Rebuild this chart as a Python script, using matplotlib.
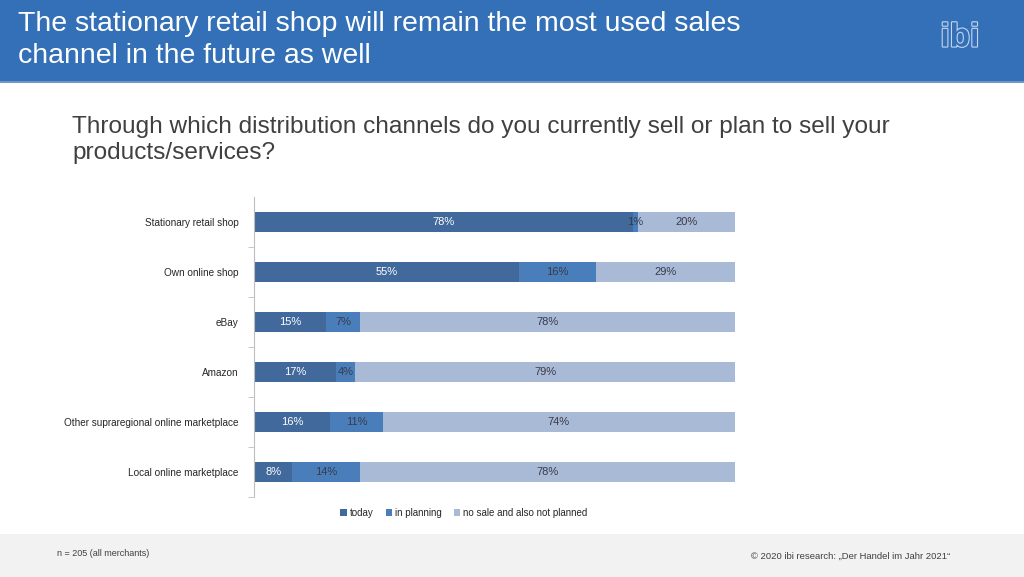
import numpy as np
import matplotlib
matplotlib.use('Agg')
import matplotlib.pyplot as plt
from matplotlib.patches import Rectangle
import matplotlib.patheffects as pe

plt.rcParams['font.family'] = ['Liberation Sans', 'DejaVu Sans']

# Data
channels = ['Stationary retail shop', 'Own online shop', 'eBay', 'Amazon',
            'Other supraregional online marketplace', 'Local online marketplace']
today = [78, 55, 15, 17, 16, 8]
planning = [1, 16, 7, 4, 11, 14]
no_sale = [20, 29, 78, 79, 74, 78]
series_names = ['today', 'in planning', 'no sale and also not planned']

colors = ['#41699B', '#4A7EBB', '#A9BAD6']
label_colors = ['white', '#3A3A4A', '#3A3A4A']

fig = plt.figure(figsize=(10.24, 5.77), dpi=100)

# header band
fig.patches.append(Rectangle((0, 1 - 81/577), 1, 81/577, transform=fig.transFigure,
                             facecolor='#3370B7', edgecolor='none', zorder=0))
fig.patches.append(Rectangle((0, 1 - 83/577), 1, 2/577, transform=fig.transFigure,
                             facecolor='#6C95C8', edgecolor='none', zorder=0))
# footer band
fig.patches.append(Rectangle((0, 0), 1, 43/577, transform=fig.transFigure,
                             facecolor='#F2F2F2', edgecolor='none', zorder=0))

fig.text(18/1024, 1 - 40/577,
         'The stationary retail shop will remain the most used sales\nchannel in the future as well',
         color='white', fontsize=20.5, va='center', ha='left', linespacing=1.3)

logo = fig.text(960/1024, 1 - 38/577, 'ibi', color='#3370B7', fontsize=24,
                ha='center', va='center', fontweight='bold')
logo.set_path_effects([pe.Stroke(linewidth=1.6, foreground='#C5D6EE'), pe.Normal()])

fig.text(72/1024, 1 - 140/577,
         'Through which distribution channels do you currently sell or plan to sell your\nproducts/services?',
         color='#404040', fontsize=17.6, va='center', ha='left', linespacing=1.25)

ax = fig.add_axes([254/1024, 80/577, 481/1024, 300/577])

data = np.array([today, planning, no_sale], dtype=float)
totals = data.sum(axis=0)
shares = data / totals * 100
y = np.arange(len(channels))
left = np.zeros(len(channels))
for k in range(3):
    ax.barh(y, shares[k], left=left, height=0.4, color=colors[k],
            label=series_names[k], edgecolor='none')
    for i in range(len(channels)):
        ax.text(left[i] + shares[k][i] / 2, y[i], f'{int(data[k][i])}%',
                ha='center', va='center', fontsize=8, color=label_colors[k])
    left += shares[k]

ax.set_xlim(0, 100)
ax.set_ylim(len(channels) - 0.5, -0.5)
ax.set_yticks(y)
ax.set_yticklabels(channels, fontsize=7.2, color='#262626')
ax.set_yticks(np.arange(0.5, len(channels), 1), minor=True)
ax.tick_params(axis='y', which='major', length=0, pad=11)
ax.tick_params(axis='y', which='minor', length=4, color='#BFBFBF')
ax.set_xticks([])
for s in ['top', 'right', 'bottom']:
    ax.spines[s].set_visible(False)
ax.spines['left'].set_color('#BFBFBF')

handles, labels = ax.get_legend_handles_labels()
fig.legend(handles, labels, loc='center', bbox_to_anchor=(464/1024, 1 - 513/577),
           ncol=3, frameon=False, fontsize=7, handlelength=0.7, handleheight=0.7,
           handletextpad=0.3, columnspacing=1.2, labelcolor='#262626')

fig.text(57/1024, 1 - 553/577, 'n = 205 (all merchants)', fontsize=6.5,
         color='#404040', va='center', ha='left')
fig.text(751/1024, 1 - 556/577, '© 2020 ibi research: \u201eDer Handel im Jahr 2021\u201c',
         fontsize=6.8, color='#404040', va='center', ha='left')

fig.savefig('out.png', dpi=100)
